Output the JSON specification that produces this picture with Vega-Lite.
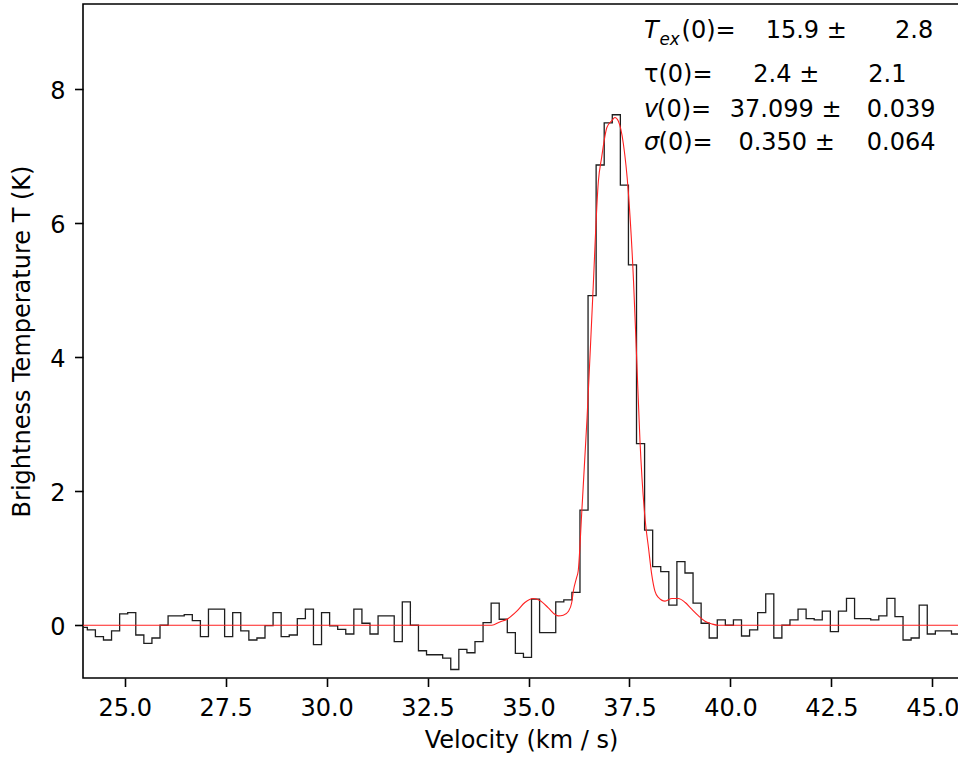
{
  "$schema": "https://vega.github.io/schema/vega-lite/v6.json",
  "width": 876,
  "height": 674,
  "autosize": {"type": "none"},
  "padding": {"left": 83, "top": 4, "right": 0, "bottom": 83},
  "background": "white",
  "config": {
    "font": "DejaVu Sans",
    "view": {"stroke": "black", "strokeWidth": 1.6},
    "axis": {
      "grid": false,
      "domain": false,
      "labelFont": "DejaVu Sans",
      "labelFontSize": 24,
      "labelColor": "black",
      "titleFont": "DejaVu Sans",
      "titleFontSize": 24,
      "titleFontWeight": "normal",
      "titleColor": "black",
      "tickColor": "black",
      "tickWidth": 1.6,
      "tickSize": 8.5,
      "labelFlush": false,
      "labelOverlap": false,
      "labelBound": false
    }
  },
  "layer": [
    {
      "data": {"values": [
        {"v": 23.974, "T": -0.03}, {"v": 24.174, "T": -0.07}, {"v": 24.374, "T": -0.17}, {"v": 24.574, "T": -0.22},
        {"v": 24.774, "T": -0.085}, {"v": 24.974, "T": 0.17}, {"v": 25.174, "T": 0.19}, {"v": 25.374, "T": -0.145},
        {"v": 25.574, "T": -0.27}, {"v": 25.774, "T": -0.19}, {"v": 25.974, "T": 0.0}, {"v": 26.174, "T": 0.14},
        {"v": 26.374, "T": 0.14}, {"v": 26.574, "T": 0.16}, {"v": 26.774, "T": 0.07}, {"v": 26.974, "T": -0.17},
        {"v": 27.174, "T": 0.24}, {"v": 27.374, "T": 0.24}, {"v": 27.574, "T": -0.17}, {"v": 27.774, "T": 0.19},
        {"v": 27.974, "T": -0.085}, {"v": 28.174, "T": -0.22}, {"v": 28.374, "T": -0.19}, {"v": 28.574, "T": -0.005},
        {"v": 28.774, "T": 0.19}, {"v": 28.974, "T": -0.17}, {"v": 29.174, "T": -0.145}, {"v": 29.374, "T": 0.1},
        {"v": 29.574, "T": 0.24}, {"v": 29.774, "T": -0.29}, {"v": 29.974, "T": 0.19}, {"v": 30.174, "T": -0.01},
        {"v": 30.374, "T": -0.06}, {"v": 30.574, "T": -0.13}, {"v": 30.774, "T": 0.24}, {"v": 30.974, "T": 0.03},
        {"v": 31.174, "T": -0.13}, {"v": 31.374, "T": 0.14}, {"v": 31.574, "T": 0.14}, {"v": 31.774, "T": -0.245},
        {"v": 31.974, "T": 0.35}, {"v": 32.174, "T": 0.0}, {"v": 32.374, "T": -0.38}, {"v": 32.574, "T": -0.44},
        {"v": 32.774, "T": -0.44}, {"v": 32.974, "T": -0.49}, {"v": 33.174, "T": -0.66}, {"v": 33.374, "T": -0.36},
        {"v": 33.574, "T": -0.41}, {"v": 33.774, "T": -0.245}, {"v": 33.974, "T": 0.04}, {"v": 34.174, "T": 0.33},
        {"v": 34.374, "T": 0.09}, {"v": 34.574, "T": -0.11}, {"v": 34.774, "T": -0.42}, {"v": 34.974, "T": -0.48},
        {"v": 35.174, "T": 0.39}, {"v": 35.374, "T": -0.11}, {"v": 35.574, "T": -0.11}, {"v": 35.774, "T": 0.35},
        {"v": 35.974, "T": 0.38}, {"v": 36.174, "T": 0.49}, {"v": 36.374, "T": 1.72}, {"v": 36.574, "T": 4.92},
        {"v": 36.774, "T": 6.87}, {"v": 36.974, "T": 7.5}, {"v": 37.174, "T": 7.62}, {"v": 37.374, "T": 6.57},
        {"v": 37.574, "T": 5.38}, {"v": 37.774, "T": 2.71}, {"v": 37.974, "T": 1.42}, {"v": 38.174, "T": 0.875},
        {"v": 38.374, "T": 0.8}, {"v": 38.574, "T": 0.3}, {"v": 38.774, "T": 0.95}, {"v": 38.974, "T": 0.78},
        {"v": 39.174, "T": 0.33}, {"v": 39.374, "T": 0.03}, {"v": 39.574, "T": -0.19}, {"v": 39.774, "T": 0.08},
        {"v": 39.974, "T": 0.0}, {"v": 40.174, "T": 0.08}, {"v": 40.374, "T": -0.16}, {"v": 40.574, "T": -0.07},
        {"v": 40.774, "T": 0.19}, {"v": 40.974, "T": 0.47}, {"v": 41.174, "T": -0.19}, {"v": 41.374, "T": 0.0},
        {"v": 41.574, "T": 0.08}, {"v": 41.774, "T": 0.24}, {"v": 41.974, "T": 0.1}, {"v": 42.174, "T": 0.08},
        {"v": 42.374, "T": 0.21}, {"v": 42.574, "T": -0.095}, {"v": 42.774, "T": 0.21}, {"v": 42.974, "T": 0.4},
        {"v": 43.174, "T": 0.1}, {"v": 43.374, "T": 0.1}, {"v": 43.574, "T": 0.08}, {"v": 43.774, "T": 0.14},
        {"v": 43.974, "T": 0.4}, {"v": 44.174, "T": 0.13}, {"v": 44.374, "T": -0.22}, {"v": 44.574, "T": -0.19},
        {"v": 44.774, "T": 0.3}, {"v": 44.974, "T": -0.13}, {"v": 45.174, "T": -0.085}, {"v": 45.374, "T": -0.085},
        {"v": 45.574, "T": -0.13}, {"v": 45.774, "T": -0.1}
      ]},
      "mark": {"type": "line", "interpolate": "step", "color": "#1e1e1e", "strokeWidth": 1.3, "clip": true},
      "encoding": {
        "x": {
          "field": "v",
          "type": "quantitative",
          "scale": {"domain": [23.967, 45.66], "zero": false, "nice": false},
          "axis": {
            "title": "Velocity (km / s)",
            "values": [25, 27.5, 30, 32.5, 35, 37.5, 40, 42.5, 45],
            "format": ".1f",
            "labelPadding": 10,
            "titlePadding": 8
          }
        },
        "y": {
          "field": "T",
          "type": "quantitative",
          "scale": {"domain": [-0.787, 9.273], "zero": false, "nice": false},
          "axis": {
            "title": "Brightness Temperature T (K)",
            "values": [0, 2, 4, 6, 8],
            "format": "d",
            "labelPadding": 9.5,
            "labelBaseline": "alphabetic",
            "labelOffset": 9.3,
            "titlePadding": 15
          }
        }
      }
    },
    {
      "data": {"values": [
        {"v": 23.9, "T": 0.0}, {"v": 34.09, "T": 0.0}, {"v": 34.29, "T": 0.05}, {"v": 34.47, "T": 0.09},
        {"v": 34.71, "T": 0.21}, {"v": 34.91, "T": 0.34}, {"v": 35.12, "T": 0.4}, {"v": 35.28, "T": 0.37},
        {"v": 35.49, "T": 0.26}, {"v": 35.66, "T": 0.16}, {"v": 35.74, "T": 0.14}, {"v": 35.86, "T": 0.15},
        {"v": 35.99, "T": 0.21}, {"v": 36.07, "T": 0.34}, {"v": 36.11, "T": 0.51}, {"v": 36.19, "T": 0.71},
        {"v": 36.23, "T": 0.81}, {"v": 36.32, "T": 1.71}, {"v": 36.45, "T": 3.1}, {"v": 36.59, "T": 4.9},
        {"v": 36.73, "T": 6.63}, {"v": 36.81, "T": 6.98}, {"v": 36.94, "T": 7.43}, {"v": 37.06, "T": 7.53},
        {"v": 37.14, "T": 7.58}, {"v": 37.22, "T": 7.53}, {"v": 37.35, "T": 7.18}, {"v": 37.47, "T": 6.48},
        {"v": 37.6, "T": 5.14}, {"v": 37.68, "T": 3.95}, {"v": 37.76, "T": 2.75}, {"v": 37.89, "T": 1.56},
        {"v": 37.97, "T": 1.16}, {"v": 38.05, "T": 0.76}, {"v": 38.13, "T": 0.51}, {"v": 38.21, "T": 0.42},
        {"v": 38.38, "T": 0.36}, {"v": 38.55, "T": 0.4}, {"v": 38.71, "T": 0.4}, {"v": 38.88, "T": 0.34},
        {"v": 39.04, "T": 0.24}, {"v": 39.21, "T": 0.14}, {"v": 39.37, "T": 0.06}, {"v": 39.54, "T": 0.02},
        {"v": 39.7, "T": 0.0}, {"v": 45.8, "T": 0.0}
      ]},
      "mark": {"type": "line", "interpolate": "monotone", "color": "#ff2020", "strokeWidth": 1.1, "clip": true},
      "encoding": {
        "x": {"field": "v", "type": "quantitative"},
        "y": {"field": "T", "type": "quantitative"}
      }
    },
    {
      "data": {"values": [{"s": "T"}]},
      "mark": {"type": "text", "align": "left", "baseline": "alphabetic", "fontSize": 24, "fontStyle": "italic", "color": "black"},
      "encoding": {"x": {"datum": 37.86}, "y": {"datum": 8.761}, "text": {"field": "s"}}
    },
    {
      "data": {"values": [{"s": "ex"}]},
      "mark": {"type": "text", "align": "left", "baseline": "alphabetic", "fontSize": 16.8, "fontStyle": "italic", "color": "black"},
      "encoding": {"x": {"datum": 38.244}, "y": {"datum": 8.661}, "text": {"field": "s"}}
    },
    {
      "data": {"values": [{"s": "(0)="}]},
      "mark": {"type": "text", "align": "left", "baseline": "alphabetic", "fontSize": 24, "color": "black"},
      "encoding": {"x": {"datum": 38.791}, "y": {"datum": 8.761}, "text": {"field": "s"}}
    },
    {
      "data": {"values": [{"s": "15.9 ±"}]},
      "mark": {"type": "text", "align": "left", "baseline": "alphabetic", "fontSize": 24, "color": "black"},
      "encoding": {"x": {"datum": 40.872}, "y": {"datum": 8.761}, "text": {"field": "s"}}
    },
    {
      "data": {"values": [{"s": "2.8"}]},
      "mark": {"type": "text", "align": "left", "baseline": "alphabetic", "fontSize": 24, "color": "black"},
      "encoding": {"x": {"datum": 44.076}, "y": {"datum": 8.761}, "text": {"field": "s"}}
    },
    {
      "data": {"values": [{"s": "τ(0)="}]},
      "mark": {"type": "text", "align": "left", "baseline": "alphabetic", "fontSize": 24, "color": "black"},
      "encoding": {"x": {"datum": 37.86}, "y": {"datum": 8.113}, "text": {"field": "s"}}
    },
    {
      "data": {"values": [{"s": "2.4 ±"}]},
      "mark": {"type": "text", "align": "left", "baseline": "alphabetic", "fontSize": 24, "color": "black"},
      "encoding": {"x": {"datum": 40.567}, "y": {"datum": 8.113}, "text": {"field": "s"}}
    },
    {
      "data": {"values": [{"s": "2.1"}]},
      "mark": {"type": "text", "align": "left", "baseline": "alphabetic", "fontSize": 24, "color": "black"},
      "encoding": {"x": {"datum": 43.415}, "y": {"datum": 8.113}, "text": {"field": "s"}}
    },
    {
      "data": {"values": [{"s": "v"}]},
      "mark": {"type": "text", "align": "left", "baseline": "alphabetic", "fontSize": 24, "fontStyle": "italic", "color": "black"},
      "encoding": {"x": {"datum": 37.86}, "y": {"datum": 7.591}, "text": {"field": "s"}}
    },
    {
      "data": {"values": [{"s": "(0)="}]},
      "mark": {"type": "text", "align": "left", "baseline": "alphabetic", "fontSize": 24, "color": "black"},
      "encoding": {"x": {"datum": 38.182}, "y": {"datum": 7.591}, "text": {"field": "s"}}
    },
    {
      "data": {"values": [{"s": "37.099 ±"}]},
      "mark": {"type": "text", "align": "left", "baseline": "alphabetic", "fontSize": 24, "color": "black"},
      "encoding": {"x": {"datum": 39.985}, "y": {"datum": 7.591}, "text": {"field": "s"}}
    },
    {
      "data": {"values": [{"s": "0.039"}]},
      "mark": {"type": "text", "align": "left", "baseline": "alphabetic", "fontSize": 24, "color": "black"},
      "encoding": {"x": {"datum": 43.375}, "y": {"datum": 7.591}, "text": {"field": "s"}}
    },
    {
      "data": {"values": [{"s": "σ"}]},
      "mark": {"type": "text", "align": "left", "baseline": "alphabetic", "fontSize": 24, "fontStyle": "italic", "color": "black"},
      "encoding": {"x": {"datum": 37.86}, "y": {"datum": 7.094}, "text": {"field": "s"}}
    },
    {
      "data": {"values": [{"s": "(0)="}]},
      "mark": {"type": "text", "align": "left", "baseline": "alphabetic", "fontSize": 24, "color": "black"},
      "encoding": {"x": {"datum": 38.219}, "y": {"datum": 7.094}, "text": {"field": "s"}}
    },
    {
      "data": {"values": [{"s": "0.350 ±"}]},
      "mark": {"type": "text", "align": "left", "baseline": "alphabetic", "fontSize": 24, "color": "black"},
      "encoding": {"x": {"datum": 40.198}, "y": {"datum": 7.094}, "text": {"field": "s"}}
    },
    {
      "data": {"values": [{"s": "0.064"}]},
      "mark": {"type": "text", "align": "left", "baseline": "alphabetic", "fontSize": 24, "color": "black"},
      "encoding": {"x": {"datum": 43.375}, "y": {"datum": 7.094}, "text": {"field": "s"}}
    }
  ]
}
